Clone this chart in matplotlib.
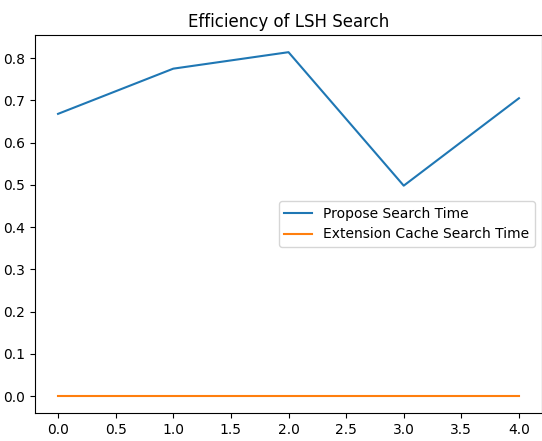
import matplotlib
matplotlib.use("Agg")
import matplotlib.pyplot as plt

x_values = [0, 1, 2, 3, 4]
propose_times = [0.668, 0.775, 0.814, 0.498, 0.705]
extension_cache_times = [0.0005, 0.0005, 0.0005, 0.0005, 0.0005]

fig = plt.figure(figsize=(5.42, 4.41), dpi=100)
ax = fig.add_axes([35 / 542, 28 / 441, 507 / 542, 378 / 441])
ax.plot(x_values, propose_times, label="Propose Search Time")
ax.plot(x_values, extension_cache_times, label="Extension Cache Search Time")
ax.set_title("Efficiency of LSH Search")
ax.legend()
fig.savefig("out.png", dpi=100)
